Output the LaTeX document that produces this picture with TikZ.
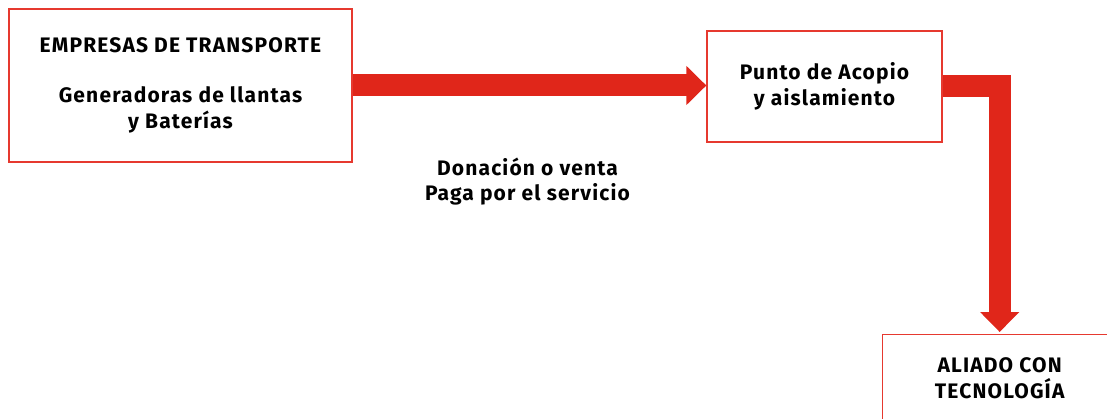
\documentclass[tikz,border=0pt]{standalone}
\usepackage{fontspec}
\setmainfont[LetterSpace=5.5]{Fira Sans}
\usetikzlibrary{arrows.meta}
\definecolor{arrowred}{HTML}{E0261A}
\definecolor{boxred}{HTML}{E6392F}
\begin{document}
\begin{tikzpicture}[x=1pt,y=-1pt,
  box/.style={draw=boxred, line width=1.3pt, fill=white, inner sep=0pt, align=center,
    font=\bfseries\fontsize{21}{26}\selectfont},
  lbl/.style={inner sep=0pt, align=center, font=\bfseries\fontsize{21}{25}\selectfont},
  flow/.style={draw=arrowred, line width=22pt, line join=miter,
    -{Triangle[width=38pt,length=20pt]}}]
\useasboundingbox (0,0) rectangle (1107,419);
\node[box, minimum width=343pt, minimum height=153pt] (b1) at (180.5,85.5)
  {EMPRESAS DE TRANSPORTE\\[24pt]Generadoras de llantas\\y Baterías};
\node[box, minimum width=235pt, minimum height=111pt] (b2) at (824.5,86.5)
  {Punto de Acopio\\y aislamiento};
\node[box, minimum width=234pt, minimum height=96pt, anchor=north west, text depth=9pt] (b3) at (882,334)
  {ALIADO CON\\TECNOLOGÍA};
\node[lbl] (l1) at (527.5,182) {Donación o venta\\Paga por el servicio};
\draw[flow] (b1.east) -- (b1.east -| b2.west);
\draw[flow, shorten >=2pt] (b2.east) -| (b3.north);
\end{tikzpicture}
\end{document}
